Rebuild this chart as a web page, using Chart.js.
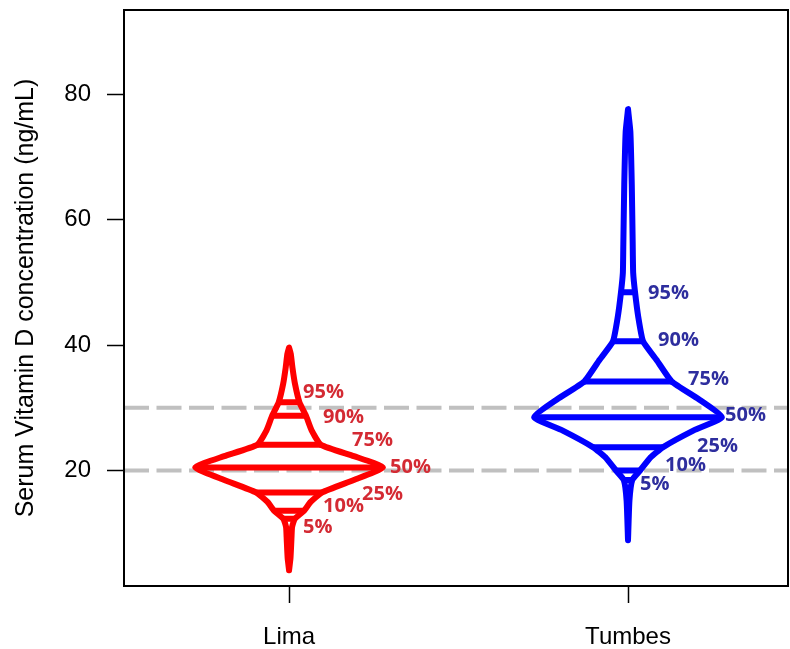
<!DOCTYPE html>
<html>
<head>
<meta charset="utf-8">
<script src="https://cdn.jsdelivr.net/npm/chart.js@4.4.1/dist/chart.umd.min.js"></script>
<style>
  html, body { margin: 0; padding: 0; background: #fff; }
  canvas { display: block; }
</style>
</head>
<body>
<canvas id="chart" width="790" height="649"></canvas>
<script>
// groups and their positions on the x axis
const groups = ['Lima', 'Tumbes'];
const groupPos = [1, 2];
const yTicks = [20, 40, 60, 80];
const refLines = [20, 30];
const pctLabels = ['5%', '10%', '25%', '50%', '75%', '90%', '95%'];

// outline: concentration (ng/mL) and spread (% of widest point)
const limaVal    = [4.1, 6, 9, 11, 12.3, 13.6, 15, 16.5, 18.5, 20.5, 22.3, 24.1, 26.4, 28.75, 30.9, 33.8, 36.4, 38.6, 39.6];
const limaSpread = [0, 1.5, 2.5, 3.2, 6, 16, 23, 35, 69, 100, 69, 34, 24, 18, 11, 6.3, 3.6, 1.8, 0];
const tumbesVal    = [8.9, 15.2, 18.5, 20.0, 22.1, 23.7, 26.4, 28.5, 31.4, 34.2, 37.5, 40.6, 44.4, 48.4, 51.5, 56, 65.6, 74, 77.6];
const tumbesSpread = [0, 1.5, 4.5, 12.8, 24, 37, 70, 100, 75, 46.5, 31, 16, 11, 7.5, 5.5, 5, 4, 2.5, 0];

// percentiles (5,10,25,50,75,90,95)
const limaQuant   = [12.3, 13.6, 16.5, 20.5, 24.1, 28.75, 30.9];
const tumbesQuant = [18.5, 20.0, 23.7, 28.5, 34.2, 40.6, 48.4];
// where the percentile labels sit (ng/mL)
const limaLabelY   = [10.9, 14.3, 16.2, 20.5, 24.8, 28.5, 32.4];
const tumbesLabelY = [17.8, 20.8, 23.8, 28.75, 34.5, 40.7, 48.2];

// layout
const SPREAD = 0.277;           // half width of widest point, x units
const limaLabelDx   = [14, 34, 73, 101, 63, 34, 14];   // px from group centre
const tumbesLabelDx = [12, 37, 69, 97, 60, 30, 20];
const RED = '#FF0000', BLUE = '#0000FF';
const RED_TXT = '#D42A33', BLUE_TXT = '#2E2E9E';

Chart.defaults.font.family = "'Liberation Sans', Arial, sans-serif";
Chart.defaults.color = '#000';

function outline(center, vals, spread) {
  const right = vals.map((v, i) => ({ x: center + spread[i] / 100 * SPREAD, y: v }));
  const left = vals.map((v, i) => ({ x: center - spread[i] / 100 * SPREAD, y: v })).reverse();
  return right.concat(left);
}

function pctLines(center, vals, spread, quant) {
  const pts = [];
  quant.forEach((q) => {
    const w = spread[vals.indexOf(q)] / 100 * SPREAD;
    pts.push({ x: center - w, y: q }, { x: center + w, y: q }, { x: null, y: null });
  });
  return pts;
}

const frame = {
  id: 'frame',
  beforeDatasetsDraw(chart) {
    const { ctx, chartArea: { left, right }, scales: { y } } = chart;
    ctx.save();
    ctx.strokeStyle = '#C0C0C0';
    ctx.lineWidth = 4;
    ctx.setLineDash([25, 7.5]);
    refLines.forEach((v) => {
      const py = y.getPixelForValue(v);
      ctx.beginPath(); ctx.moveTo(left, py); ctx.lineTo(right, py); ctx.stroke();
    });
    ctx.restore();
  },
  afterDraw(chart) {
    const { ctx, chartArea: { left, top, right, bottom }, scales: { x, y } } = chart;
    ctx.save();
    ctx.strokeStyle = '#000';
    ctx.lineWidth = 2;
    ctx.strokeRect(left, top, right - left, bottom - top);

    // percentile labels
    ctx.font = "bold 20px 'Open Sans', sans-serif";
    ctx.textAlign = 'left';
    ctx.textBaseline = 'middle';
    const sets = [
      { pos: groupPos[0], ys: limaLabelY, dx: limaLabelDx, color: RED_TXT },
      { pos: groupPos[1], ys: tumbesLabelY, dx: tumbesLabelDx, color: BLUE_TXT },
    ];
    sets.forEach(({ pos, ys, dx, color }) => {
      ctx.fillStyle = color;
      const cx = x.getPixelForValue(pos);
      pctLabels.forEach((t, i) => ctx.fillText(t, cx + dx[i], y.getPixelForValue(ys[i])));
    });
    ctx.restore();
  },
};

const lineStyle = {
  showLine: true,
  pointRadius: 0,
  borderWidth: 6,
  borderJoinStyle: 'round',
  borderCapStyle: 'round',
  tension: 0.15,
  spanGaps: false,
  fill: false,
};

const noPad = (s) => { s.paddingTop = 0; s.paddingBottom = 0; s.paddingLeft = 0; s.paddingRight = 0; };

new Chart(document.getElementById('chart'), {
  type: 'scatter',
  plugins: [frame],
  data: {
    datasets: [
      { ...lineStyle, data: outline(groupPos[0], limaVal, limaSpread), borderColor: RED },
      { ...lineStyle, data: pctLines(groupPos[0], limaVal, limaSpread, limaQuant), borderColor: RED, borderCapStyle: 'butt', tension: 0 },
      { ...lineStyle, data: outline(groupPos[1], tumbesVal, tumbesSpread), borderColor: BLUE },
      { ...lineStyle, data: pctLines(groupPos[1], tumbesVal, tumbesSpread, tumbesQuant), borderColor: BLUE, borderCapStyle: 'butt', tension: 0 },
    ],
  },
  options: {
    responsive: false,
    animation: false,
    devicePixelRatio: 1,
    layout: { padding: { top: 10, right: 2, left: 0, bottom: 0 } },
    plugins: { legend: { display: false }, tooltip: { enabled: false } },
    scales: {
      x: {
        type: 'linear',
        min: 0.513, max: 2.472,
        afterBuildTicks: (s) => { s.ticks = groupPos.map((v) => ({ value: v })); },
        afterFit: (s) => { s.height = 63; noPad(s); },
        border: { display: false },
        grid: { drawOnChartArea: false, drawTicks: true, tickLength: 17, tickColor: '#000', tickWidth: 1.5 },
        ticks: {
          padding: 20,
          font: { size: 24 },
          callback: (v) => groups[groupPos.indexOf(v)],
        },
      },
      y: {
        min: 1.6, max: 93.4,
        afterBuildTicks: (s) => { s.ticks = yTicks.map((v) => ({ value: v })); },
        afterFit: (s) => { s.width = 124; noPad(s); },
        border: { display: false },
        grid: { drawOnChartArea: false, drawTicks: true, tickLength: 17, tickColor: '#000', tickWidth: 1.5 },
        ticks: { padding: 16, font: { size: 24 } },
        title: {
          display: true,
          text: 'Serum Vitamin D concentration (ng/mL)',
          font: { size: 25 },
          padding: { top: 11, bottom: 0 },
        },
      },
    },
  },
});
</script>
</body>
</html>
